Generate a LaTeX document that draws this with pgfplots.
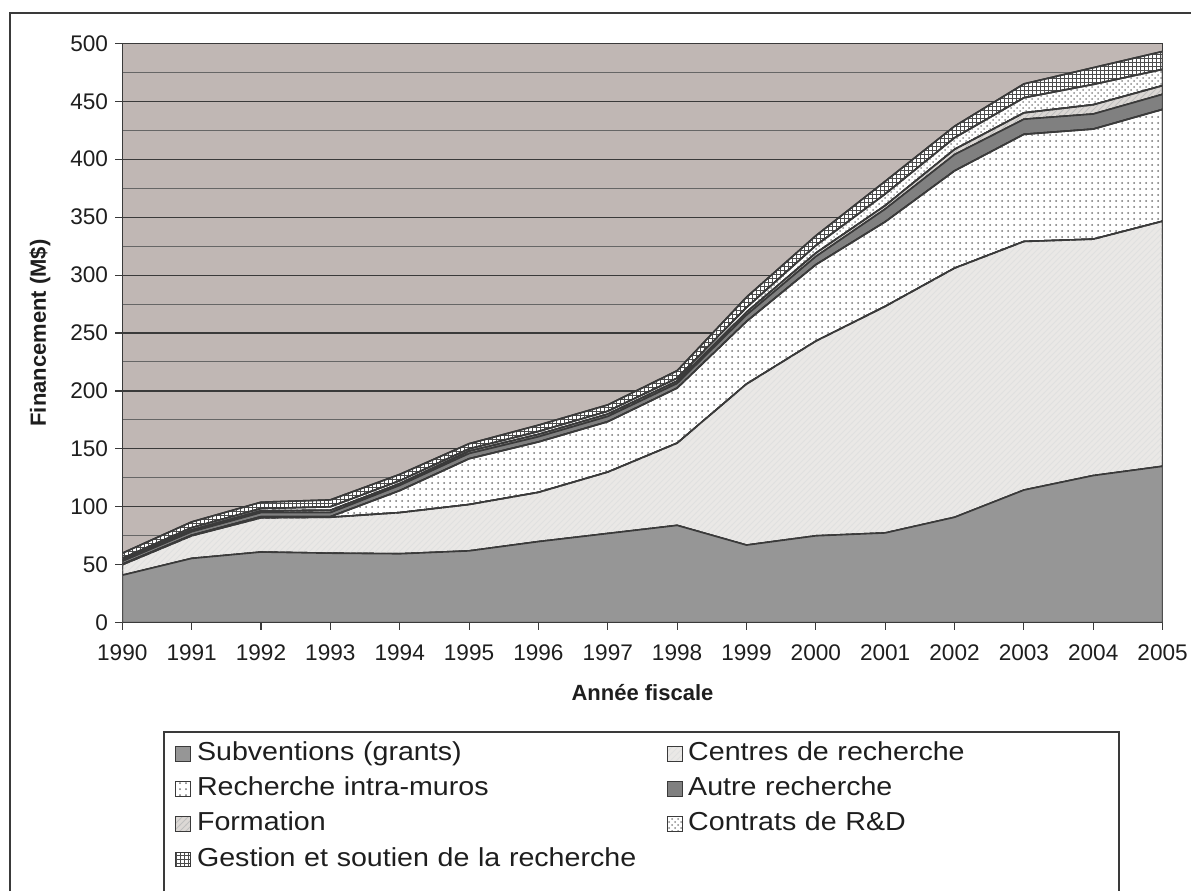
\documentclass[border=0pt]{standalone}
\usepackage{pgfplots}
\pgfplotsset{compat=1.18}
\usepackage{pgfplotstable}
\usetikzlibrary{patterns}
\usepackage{fontspec}
\setmainfont{Liberation Sans}
\newfontfamily\legendfont{Liberation Sans}[FakeStretch=1.1]
\definecolor{bgplot}{RGB}{192,183,180}
\definecolor{edge}{RGB}{58,58,58}
\definecolor{subv}{RGB}{150,150,150}
\definecolor{centres}{RGB}{234,232,230}
\definecolor{autre}{RGB}{128,128,128}
\definecolor{form}{RGB}{220,216,213}
\definecolor{txt}{RGB}{30,30,30}
\pgfdeclarepatternformonly{finegrid}{\pgfqpoint{-1pt}{-1pt}}{\pgfqpoint{2pt}{2pt}}{\pgfqpoint{2pt}{2pt}}{%
  \pgfsetlinewidth{0.5pt}%
  \pgfpathmoveto{\pgfqpoint{0pt}{0pt}}\pgfpathlineto{\pgfqpoint{2pt}{0pt}}%
  \pgfpathmoveto{\pgfqpoint{0pt}{0pt}}\pgfpathlineto{\pgfqpoint{0pt}{2pt}}%
  \pgfusepath{stroke}}
\pgfplotstableread{
year subv centres intra autre form contrats gestion
1990 41 9 0.5 2.5 1 1.5 4.5
1991 55.5 19.5 0.5 3 1.5 2 5
1992 61 29.5 1 3.5 1.5 2 5.5
1993 60 31 0.5 3.5 2 3 6
1994 59.5 35.5 19 4.5 1.5 2.5 5.5
1995 62 40 39.5 4.5 2 2 4.5
1996 70 42.5 43.5 4.5 2 2.5 5.5
1997 77 53 43.5 4.5 2 2.5 5.5
1998 84 71 47.5 4 2 2.5 6.5
1999 67 139 54 5.5 2.5 4 9
2000 75 168 66 7 3 6.5 8.5
2001 77.5 195.5 73 11 3 10 11
2002 91 215 84 14 4.5 10 10
2003 114.5 214.5 92.5 13 5.5 13 12
2004 127 204 95 13 8 17.5 14.5
2005 135 211.5 96.5 13 7.5 14 15.5
}\data
\begin{document}
\begin{tikzpicture}
\useasboundingbox (0,0) rectangle (595.5pt,-445.5pt);
\draw[edge, line width=0.75pt] (5pt,-445.5pt) -- (5pt,-6.5pt) -- (595.5pt,-6.5pt);
\draw[edge, line width=0.6pt] (82pt,-445.5pt) -- (82pt,-366pt) -- (559.5pt,-366pt) -- (559.5pt,-445.5pt);
\begin{axis}[
  at={(61.15pt,-311.35pt)}, anchor=south west,
  scale only axis, width=520.2pt, height=289.7pt,
  xmin=1990, xmax=2005, ymin=0, ymax=500,
  axis background/.style={fill=bgplot},
  stack plots=y,
  xtick={1990,...,2005},
  ytick={0,50,...,500},
  minor ytick={25,75,...,475},
  ymajorgrids, yminorgrids,
  major grid style={edge, line width=0.55pt},
  minor grid style={black!60, line width=0.5pt},
  tick pos=left, tick align=outside,
  major tick length=3.6pt, minor tick length=0pt,
  tick style={edge, line width=0.55pt},
  axis line style={edge, line width=0.75pt},
  /pgf/number format/1000 sep={},
  /pgf/number format/assume math mode=true,
  tick label style={font=\fontsize{11.3}{13}\selectfont, text=txt},
  xticklabel style={yshift=-4pt},
  xlabel={Année fiscale}, ylabel={Financement (M\$)},
  every axis x label/.style={at={(axis description cs:0.5,-0.1213)}, anchor=center,
    font=\bfseries\fontsize{11}{13}\selectfont, text=txt},
  every axis y label/.style={at={(axis description cs:-0.0791,0.5)}, rotate=90, anchor=center,
    font=\bfseries\fontsize{11}{13}\selectfont, text=txt},
  legend columns=2,
  legend cell align=left,
  legend image code/.code={\draw[#1, line width=0.5pt] (0pt,-3.7pt) rectangle (7.5pt,3.7pt);},
  legend style={at={(axis description cs:0.0507,-0.1985)}, anchor=north west,
    draw=none, fill=none, inner sep=0pt,
    font=\legendfont\fontsize{13}{15}\selectfont, text=txt,
    row sep=2.15pt,
    nodes={inner xsep=2.8pt, inner ysep=1.5pt, text height=9.5pt, text depth=3pt},
    /tikz/every even column/.append style={text width=232pt, align=left}},
]
\addplot[draw=edge, line width=0.8pt, fill=subv] table[x=year,y=subv] {\data} \closedcycle;
\addlegendentry{Subventions (grants)}
\addplot[draw=edge, line width=0.8pt, fill=centres, postaction={pattern=north east lines, pattern color=black!12}] table[x=year,y=centres] {\data} \closedcycle;
\addlegendentry{Centres de recherche}
\addplot[draw=edge, line width=0.8pt, fill=white, postaction={pattern=dots, pattern color=black!55}] table[x=year,y=intra] {\data} \closedcycle;
\addlegendentry{Recherche intra-muros}
\addplot[draw=edge, line width=0.8pt, fill=autre] table[x=year,y=autre] {\data} \closedcycle;
\addlegendentry{Autre recherche}
\addplot[draw=edge, line width=0.8pt, fill=form, postaction={pattern=north east lines, pattern color=black!25}] table[x=year,y=form] {\data} \closedcycle;
\addlegendentry{Formation}
\addplot[draw=edge, line width=0.8pt, fill=white, postaction={pattern=crosshatch dots, pattern color=black!45}] table[x=year,y=contrats] {\data} \closedcycle;
\addlegendentry{Contrats de R\&D}
\addplot[draw=edge, line width=0.8pt, fill=white, postaction={pattern=finegrid, pattern color=black!70}] table[x=year,y=gestion] {\data} \closedcycle;
\addlegendentry{Gestion et soutien de la recherche}
\end{axis}
\end{tikzpicture}
\end{document}
